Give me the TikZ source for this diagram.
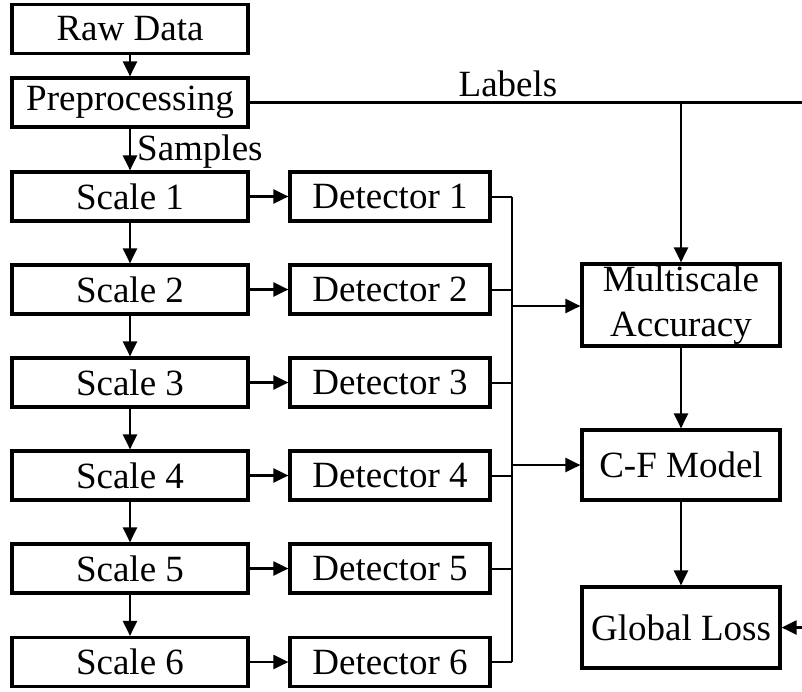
\documentclass[tikz,border=0pt]{standalone}
\usepackage{fontspec}
\setmainfont{Liberation Serif}
\usetikzlibrary{arrows.meta}
\begin{document}
\begin{tikzpicture}[x=1pt,y=-1pt,
  box/.style={draw,line width=3.2pt,inner sep=0pt,font=\fontsize{37}{45}\selectfont,align=center},
  sbox/.style={box,minimum width=236pt,minimum height=49pt},
  dbox/.style={box,minimum width=200pt,minimum height=49pt},
  rbox/.style={box,minimum width=198pt},
  arr/.style={line width=2.2pt,-{Triangle[length=15pt,width=14pt]}},
  ln/.style={line width=2.4pt},
  bus/.style={line width=2pt}]
\useasboundingbox (0,0) rectangle (802,691);
\node[sbox] (raw) at (130,29) {Raw Data};
\node[sbox] (pre) at (130,102.5) {Preprocessing};
\foreach \i/\y in {1/196.5,2/289.5,3/382.5,4/475.5,5/568.5,6/662}{
  \node[sbox] (s\i) at (130,\y) {Scale \i};
  \node[dbox] (d\i) at (390,\y) {Detector \i};
  \coordinate (b\i) at (512,\y);
  \draw[arr] (s\i) -- (d\i);
  \draw[bus] (d\i.east) -- (b\i);
}
\node[rbox,minimum height=82pt] (ma) at (681,305) {Multiscale\\Accuracy};
\node[rbox,minimum height=70pt] (cf) at (681,465) {C-F Model};
\node[rbox,minimum height=81pt] (gl) at (681,627.5) {Global Loss};
\node[font=\fontsize{37}{45}\selectfont,anchor=west,inner sep=0pt] (smp) at (137,152) {Samples};
\node[font=\fontsize{37}{45}\selectfont,inner sep=0pt] (lab) at (508,84) {Labels};
\draw[arr] (raw) -- (pre);
\draw[arr] (pre) -- (s1);
\foreach \i/\j in {1/2,2/3,3/4,4/5,5/6}{\draw[arr] (s\i) -- (s\j);}
\draw[bus] (b1) -- (b6);
\coordinate (bma) at (512,306);
\coordinate (bcf) at (512,465);
\draw[arr] (bma) -- (ma.west |- bma);
\draw[arr] (bcf) -- (cf.west |- bcf);
\coordinate (lend) at (802,102.5);
\coordinate (ltap) at (681,102.5);
\draw[ln] (pre.east) -- (lend);
\draw[arr] (ltap) -- (ma.north);
\draw[arr] (ma) -- (cf);
\draw[arr] (cf) -- (gl);
\coordinate (gin) at (802,627.5);
\draw[arr] (gin) -- (gl.east);
\end{tikzpicture}
\end{document}
